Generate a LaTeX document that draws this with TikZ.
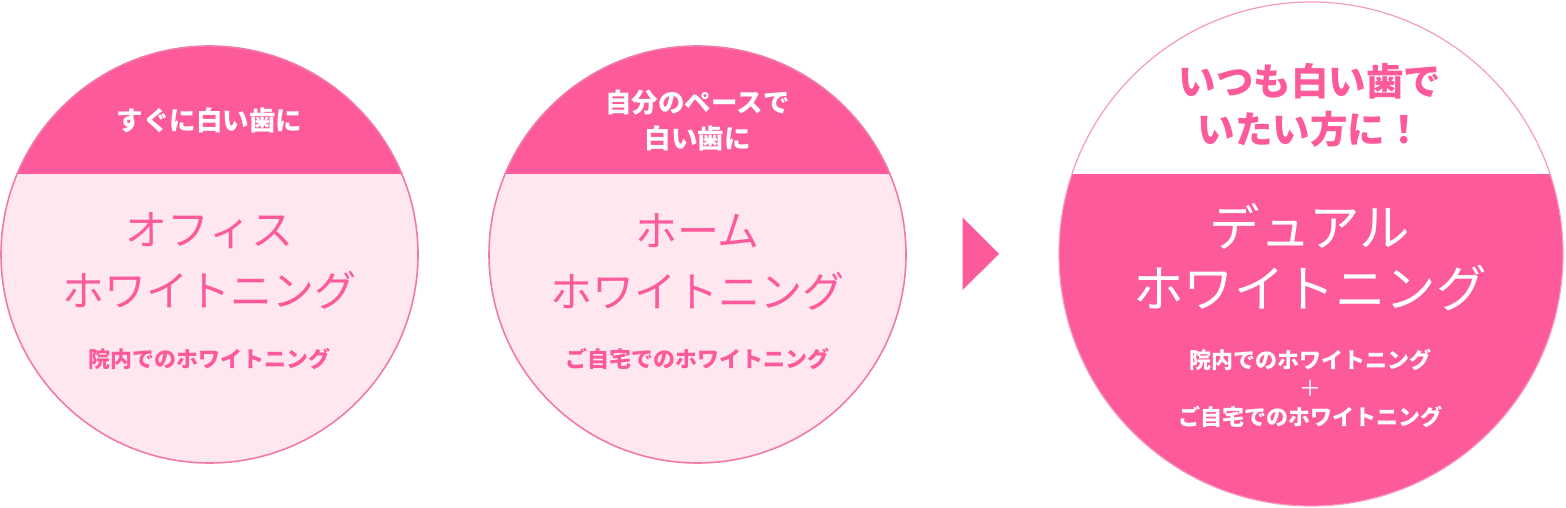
\documentclass[tikz,border=0pt]{standalone}
\usepackage{fontspec}
\newfontfamily\jp{Noto Sans CJK JP}
\definecolor{pinkdark}{HTML}{FC5A9A}
\definecolor{pinklight}{HTML}{FFE7EF}
\definecolor{pinkline}{HTML}{F07AA8}
\definecolor{pinkthin}{HTML}{F49BBF}
\tikzset{
  bandtxt/.style={font=\jp\bfseries\fontsize{26.5pt}{36pt}\selectfont, text=white, align=center, inner sep=0pt},
  titletxt/.style={font=\jp\fontsize{42pt}{61pt}\selectfont, text=pinkdark, align=center, inner sep=0pt},
  subtxt/.style={font=\jp\bfseries\fontsize{22pt}{28.5pt}\selectfont, text=pinkdark, align=center, inner sep=0pt},
}
\begin{document}
\begin{tikzpicture}[x=1pt,y=-1pt]
\useasboundingbox (0,0) rectangle (1566,508);
% circle 1
\begin{scope}
\clip (209.5,254.5) circle (208.5);
\fill[pinklight] (0,0) rectangle (420,508);
\fill[pinkdark] (0,0) rectangle (420,174);
\end{scope}
\draw[pinkline, line width=1.6pt] (209.5,254.5) circle (208.5);
\node[bandtxt] (b1) at (209.5,120) {すぐに白い歯に};
\node[titletxt] (t1) at (209.5,261.5) {オフィス\\ホワイトニング};
\node[subtxt] (s1) at (209.5,358.5) {院内でのホワイトニング};
% circle 2
\begin{scope}
\clip (697.5,254.5) circle (208.5);
\fill[pinklight] (480,0) rectangle (910,508);
\fill[pinkdark] (480,0) rectangle (910,174);
\end{scope}
\draw[pinkline, line width=1.6pt] (697.5,254.5) circle (208.5);
\node[bandtxt] (b2) at (697.5,120) {自分のペースで\\白い歯に};
\node[titletxt] (t2) at (697.5,261.5) {ホーム\\ホワイトニング};
\node[subtxt] (s2) at (697.5,358.5) {ご自宅でのホワイトニング};
% arrow
\fill[pinkdark] (962.5,217.5) -- (999,254) -- (962.5,290) -- cycle;
% circle 3
\begin{scope}
\clip (1311,254) circle (252);
\fill[white] (1050,0) rectangle (1566,508);
\fill[pinkdark] (1050,174) rectangle (1566,508);
\end{scope}
\draw[pinkthin, line width=1.2pt] (1311,254) circle (252);
\node[font=\jp\bfseries\fontsize{37.5pt}{48pt}\selectfont, text=pinkdark, align=center, inner sep=0pt] (b3) at (1310,105) {いつも白い歯で\\いたい方に！};
\node[font=\jp\fontsize{50.5pt}{61pt}\selectfont, text=white, align=center, inner sep=0pt] (t3) at (1310,257.5) {デュアル\\ホワイトニング};
\node[subtxt, text=white] (s3) at (1310,388) {院内でのホワイトニング\\{\mdseries ＋}\\ご自宅でのホワイトニング};
\end{tikzpicture}
\end{document}
